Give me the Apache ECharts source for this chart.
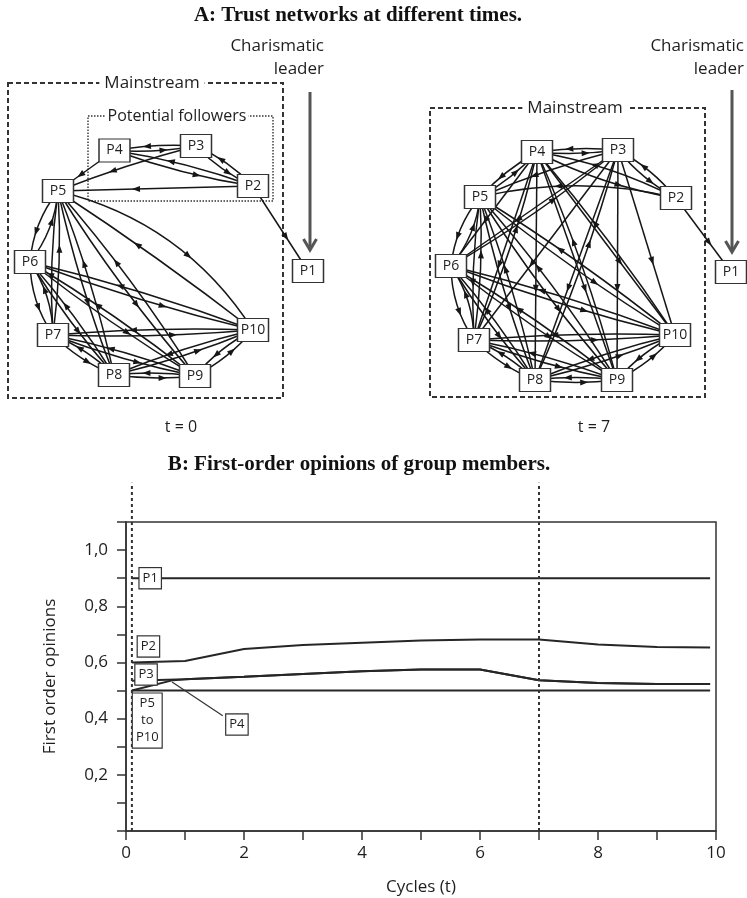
<!DOCTYPE html>
<html><head><meta charset="utf-8">
<script src="https://cdn.jsdelivr.net/npm/echarts@6/dist/echarts.min.js"></script>
<style>html,body{margin:0;padding:0;background:#fff}#c{width:747px;height:898px}</style>
</head><body><div id="c"></div>
<script>
// ---------- Panel A data (node layout units) ----------
const nodeNames = ['P1','P2','P3','P4','P5','P6','P7','P8','P9','P10'];
const leftNodeX  = [308, 253, 196, 114.5, 58, 30, 53, 114, 195, 253];
const leftNodeY  = [271, 186, 146, 150.5, 191, 262, 335, 375, 376, 330];
const rightNodeX = [731, 676, 618, 537, 480, 451, 474, 535, 617, 675];
const rightNodeY = [272, 198, 150, 152, 197, 266, 340, 380, 380, 335];

// [source, target, curveness]
const leftEdges = [
  [4,3,0.06],[3,4,0.06],[4,2,0.05],[2,4,0.05],[3,2,0.1],[2,3,0.1],[4,5,0],[3,5,0.03],[2,5,0],[2,1,0],
  [5,6,0.15],[6,5,0.15],[5,7,0.05],[7,5,0.05],[5,8,0.04],[8,5,0.04],[5,9,0.04],[9,5,0.04],[5,10,-0.2],[10,5,0.02],
  [6,7,0.15],[7,6,0.15],[6,8,0.04],[8,6,0.04],[6,9,0.03],[9,6,0.03],[6,10,0.03],[10,6,0.03],
  [7,8,0.1],[8,7,0.1],[7,9,0.04],[9,7,0.04],[7,10,0.03],[10,7,0.03],
  [8,9,0.06],[9,8,0.06],[8,10,0.04],[10,8,0.04],[9,10,0.1],[10,9,0.1]
];
const rightEdges = [
  [4,3,0.06],[3,4,0.06],[4,2,0.08],[2,4,0.08],[3,2,0.1],[2,3,0.1],[5,4,0.08],[4,5,0.08],[3,5,0.04],[2,5,0.12],[2,1,0],
  [4,6,0],[4,7,0],[4,8,0],[4,9,0],[4,10,0],[3,6,0],[3,7,0],[3,8,0],[3,9,0],[3,10,0],
  [6,3,0.04],[7,4,0.05],[9,4,0.04],[8,3,0.04],[10,4,0.03],
  [5,6,0.15],[6,5,0.15],[5,7,0.05],[7,5,0.05],[5,8,0.04],[8,5,0.04],[5,9,0.04],[9,5,0.04],[5,10,0.03],[10,5,0.03],
  [6,7,0.15],[7,6,0.15],[6,8,0.04],[8,6,0.04],[6,9,0.03],[9,6,0.03],[6,10,0.03],[10,6,0.03],
  [7,8,0.1],[8,7,0.1],[7,9,0.04],[9,7,0.04],[7,10,0.03],[10,7,0.03],
  [8,9,0.06],[9,8,0.06],[8,10,0.04],[10,8,0.04],[9,10,0.1],[10,9,0.1]
];

const frameX1 = [8, 88, 430];
const frameY1 = [83, 116, 108];
const frameX2 = [283, 273, 705];
const frameY2 = [398, 201, 397];
const frameLabels = ['Mainstream', 'Potential followers', 'Mainstream'];
const frameLabelX = [152, 177, 575];
const frameKind = ['dash', 'dot', 'dash'];

const leaderX = [310, 732];
const leaderTop = [92, 90];
const leaderBottom = [250, 252];

// ---------- Panel B data ----------
const cycles = [0.1, 1, 2, 3, 4, 5, 6, 7, 8, 9, 9.9];
const opP1 = [0.9, 0.9, 0.9, 0.9, 0.9, 0.9, 0.9, 0.9, 0.9, 0.9, 0.9];
const opP2 = [0.60, 0.605, 0.648, 0.662, 0.670, 0.678, 0.682, 0.682, 0.664, 0.655, 0.653];
const opP3 = [0.535, 0.54, 0.549, 0.559, 0.569, 0.575, 0.575, 0.537, 0.527, 0.523, 0.523];
const cyclesP4 = [0.1, 0.8, 1, 2, 3, 4, 5, 6, 7, 8, 9, 9.9];
const opP4 = [0.5, 0.537, 0.54, 0.549, 0.559, 0.569, 0.575, 0.575, 0.537, 0.527, 0.523, 0.523];
const opP5to10 = [0.5, 0.5, 0.5, 0.5, 0.5, 0.5, 0.5, 0.5, 0.5, 0.5, 0.5];

const xTicks = [0, 2, 4, 6, 8, 10];
const yTickLabels = ['0,2', '0,4', '0,6', '0,8', '1,0'];

const annoLabels = ['P1', 'P2', 'P3', 'P5\nto\nP10', 'P4'];
const annoX = [0.41, 0.38, 0.34, 0.36, 1.88];
const annoY = [0.9, 0.657, 0.557, 0.393, 0.379];
const pointerFrom = [1.64, 0.41];
const pointerTo = [0.78, 0.53];
const vLineX = [0.1, 7];
const vLineTop = 1.24;

// ---------- chart ----------
const SANS = '"Open Sans", "Noto Sans", sans-serif';
const INK = '#1e1e1e';

function pos(net, n) {
  return net === 0 ? [leftNodeX[n-1], leftNodeY[n-1]] : [rightNodeX[n-1], rightNodeY[n-1]];
}

const edgeData = leftEdges.map(e => [e[0], e[1], e[2], 0]).concat(rightEdges.map(e => [e[0], e[1], e[2], 1]));
const nodeData = [];
nodeNames.forEach((n, i) => nodeData.push({name: n, value: [leftNodeX[i], leftNodeY[i]]}));
nodeNames.forEach((n, i) => nodeData.push({name: n, value: [rightNodeX[i], rightNodeY[i]]}));

function edgeItem(params, api) {
  const s = api.value(0), t = api.value(1), c = api.value(2), net = api.value(3);
  const p0 = api.coord(pos(net, s)), p1 = api.coord(pos(net, t));
  const dx = p1[0]-p0[0], dy = p1[1]-p0[1], L = Math.hypot(dx, dy);
  const nx = -dy/L, ny = dx/L;
  const cx = (p0[0]+p1[0])/2 + c*L*nx, cy = (p0[1]+p1[1])/2 + c*L*ny;
  const u = 0.6;
  const px = (1-u)*(1-u)*p0[0] + 2*(1-u)*u*cx + u*u*p1[0];
  const py = (1-u)*(1-u)*p0[1] + 2*(1-u)*u*cy + u*u*p1[1];
  let tx = 2*(1-u)*(cx-p0[0]) + 2*u*(p1[0]-cx);
  let ty = 2*(1-u)*(cy-p0[1]) + 2*u*(p1[1]-cy);
  const tl = Math.hypot(tx, ty); tx /= tl; ty /= tl;
  const al = 8, aw = 3;
  const tip = [px + tx*al/2, py + ty*al/2];
  const b = [px - tx*al/2, py - ty*al/2];
  return {type: 'group', children: [
    {type: 'bezierCurve', shape: {x1: p0[0], y1: p0[1], x2: p1[0], y2: p1[1], cpx1: cx, cpy1: cy},
     style: {stroke: '#161616', fill: null, lineWidth: 1.5}},
    {type: 'polygon', shape: {points: [tip, [b[0] - ty*aw, b[1] + tx*aw], [b[0] + ty*aw, b[1] - tx*aw]]},
     style: {fill: '#161616'}}
  ]};
}

function frameItem(params, api) {
  const i = params.dataIndex;
  const a = api.coord([api.value(0), api.value(1)]), b = api.coord([api.value(2), api.value(3)]);
  const dotted = frameKind[i] === 'dot';
  const lc = api.coord([frameLabelX[i], api.value(1)]);
  return {type: 'group', children: [
    {type: 'rect', shape: {x: a[0], y: a[1], width: b[0]-a[0], height: b[1]-a[1]},
     style: {fill: 'rgba(0,0,0,0)', stroke: '#333', lineWidth: dotted ? 1.4 : 2, lineDash: dotted ? [1.5, 1.5] : [5, 3]}},
    {type: 'text', x: lc[0], y: lc[1], z2: 10,
     style: {text: frameLabels[i], align: 'center', verticalAlign: 'middle', fill: INK,
             font: (dotted ? '16px ' : '17px ') + SANS, backgroundColor: '#fff', padding: dotted ? [0, 2] : [0, 5]}}
  ]};
}

function leaderItem(params, api) {
  const top = api.coord([api.value(0), api.value(1)]);
  const bot = api.coord([api.value(0), api.value(2)]);
  const col = '#555';
  return {type: 'group', children: [
    {type: 'line', shape: {x1: top[0], y1: top[1], x2: bot[0], y2: bot[1] - 1}, style: {stroke: col, lineWidth: 3}},
    {type: 'polyline', shape: {points: [[bot[0]-6.5, bot[1]-11], [bot[0], bot[1]], [bot[0]+6.5, bot[1]-11]]},
     style: {stroke: col, lineWidth: 3, fill: null}}
  ]};
}

function annoItem(params, api) {
  const i = params.dataIndex;
  const p = api.coord([api.value(0), api.value(1)]);
  return {type: 'text', x: p[0], y: p[1], z2: 20,
    style: {text: annoLabels[i], align: 'center', verticalAlign: 'middle', fill: INK,
            font: '13px ' + SANS, lineHeight: 17, backgroundColor: '#fff', borderColor: '#333', borderWidth: 1.2,
            padding: [2, 3, 1, 3]}};
}

function vLineItem(params, api) {
  const a = api.coord([api.value(0), 0]);
  const b = api.coord([api.value(0), vLineTop]);
  return {type: 'line', shape: {x1: a[0], y1: a[1], x2: b[0], y2: b[1]},
          style: {stroke: '#333', lineWidth: 2, lineDash: [3, 3]}};
}

function pointerItem(params, api) {
  const a = api.coord(pointerFrom), b = api.coord(pointerTo);
  return {type: 'line', shape: {x1: a[0], y1: a[1], x2: b[0], y2: b[1]}, style: {stroke: '#333', lineWidth: 1.2}};
}

const lineStyle = {color: '#262626', width: 2};
function lineSeries(name, xs, ys) {
  return {type: 'line', name, xAxisIndex: 1, yAxisIndex: 1, data: xs.map((x, i) => [x, ys[i]]),
    showSymbol: false, symbol: 'none', lineStyle, z: 3, animation: false};
}

const chart = echarts.init(document.getElementById('c'), null, {renderer: 'canvas'});
chart.setOption({
  animation: false,
  backgroundColor: '#fff',
  textStyle: {fontFamily: SANS},
  grid: [
    {left: 0, top: 0, width: 747, height: 460, show: false},
    {left: 126, right: 31, top: 522, bottom: 67, show: true, borderColor: '#333', borderWidth: 1.5, backgroundColor: 'rgba(0,0,0,0)'}
  ],
  xAxis: [
    {gridIndex: 0, type: 'value', min: 0, max: 747, show: false},
    {gridIndex: 1, type: 'value', min: 0, max: 10, interval: 1,
     axisLine: {lineStyle: {color: '#333', width: 1.5}},
     axisTick: {inside: false, length: 9, lineStyle: {color: '#333', width: 1.5}},
     axisLabel: {margin: 14, fontSize: 17, color: INK, fontFamily: SANS,
       formatter: v => xTicks.indexOf(Math.round(v*100)/100) >= 0 ? String(v) : ''},
     splitLine: {show: false},
     name: 'Cycles (t)', nameLocation: 'middle', nameGap: 48,
     nameTextStyle: {fontSize: 17, color: INK, fontFamily: SANS}}
  ],
  yAxis: [
    {gridIndex: 0, type: 'value', min: 0, max: 460, inverse: true, show: false},
    {gridIndex: 1, type: 'value', min: 0, max: 1.1, interval: 0.1,
     axisLine: {show: true, lineStyle: {color: '#333', width: 1.5}},
     axisTick: {show: true, inside: false, length: 9, lineStyle: {color: '#333', width: 1.5}},
     axisLabel: {margin: 18, fontSize: 17, color: INK, fontFamily: SANS,
       formatter: v => { const r = Math.round(v*10); return (r % 2 === 0 && r >= 2 && r <= 10) ? yTickLabels[r/2 - 1] : ''; }},
     splitLine: {show: false},
     name: 'First order opinions', nameLocation: 'middle', nameGap: 67,
     nameTextStyle: {fontSize: 17, color: INK, fontFamily: SANS}}
  ],
  graphic: [
    {type: 'text', x: 358, y: 16, style: {text: 'A: Trust networks at different times.', align: 'center', verticalAlign: 'middle', fill: '#111', font: 'bold 21px "Liberation Serif", "Times New Roman", serif'}},
    {type: 'text', x: 359, y: 465, style: {text: 'B: First-order opinions of group members.', align: 'center', verticalAlign: 'middle', fill: '#111', font: 'bold 21px "Liberation Serif", "Times New Roman", serif'}},
    {type: 'text', x: 181, y: 427, style: {text: 't = 0', align: 'center', verticalAlign: 'middle', fill: INK, font: '16px ' + SANS}},
    {type: 'text', x: 594, y: 427, style: {text: 't = 7', align: 'center', verticalAlign: 'middle', fill: INK, font: '16px ' + SANS}},
    {type: 'text', x: 324, y: 58, style: {text: 'Charismatic\nleader', align: 'right', verticalAlign: 'middle', lineHeight: 23, fill: INK, font: '17px ' + SANS}},
    {type: 'text', x: 744, y: 58, style: {text: 'Charismatic\nleader', align: 'right', verticalAlign: 'middle', lineHeight: 23, fill: INK, font: '17px ' + SANS}}
  ],
  series: [
    {type: 'custom', name: 'frames', xAxisIndex: 0, yAxisIndex: 0, renderItem: frameItem, z: 1,
     data: frameX1.map((x, i) => [x, frameY1[i], frameX2[i], frameY2[i]]), clip: false, silent: true},
    {type: 'custom', name: 'edges', xAxisIndex: 0, yAxisIndex: 0, renderItem: edgeItem, z: 2,
     data: edgeData, clip: false, silent: true},
    {type: 'custom', name: 'leader', xAxisIndex: 0, yAxisIndex: 0, renderItem: leaderItem, z: 2,
     data: leaderX.map((x, i) => [x, leaderTop[i], leaderBottom[i]]), clip: false, silent: true},
    {type: 'scatter', name: 'nodes', xAxisIndex: 0, yAxisIndex: 0, z: 5, symbol: 'rect', symbolSize: [31, 23],
     itemStyle: {color: '#fff', borderColor: '#333', borderWidth: 1.3, opacity: 1},
     label: {show: true, position: 'inside', formatter: p => p.name, color: INK, fontSize: 14, fontFamily: SANS},
     data: nodeData, silent: true},
    lineSeries('P1', cycles, opP1),
    lineSeries('P2', cycles, opP2),
    lineSeries('P3', cycles, opP3),
    lineSeries('P4', cyclesP4, opP4),
    lineSeries('P5 to P10', cycles, opP5to10),
    {type: 'custom', name: 'vlines', xAxisIndex: 1, yAxisIndex: 1, renderItem: vLineItem, z: 4,
     data: vLineX.map(x => [x, 0]), clip: false, silent: true},
    {type: 'custom', name: 'pointer', xAxisIndex: 1, yAxisIndex: 1, renderItem: pointerItem, z: 5,
     data: [[pointerFrom[0], pointerFrom[1]]], clip: false, silent: true},
    {type: 'custom', name: 'annotations', xAxisIndex: 1, yAxisIndex: 1, renderItem: annoItem, z: 6,
     data: annoX.map((x, i) => [x, annoY[i]]), clip: false, silent: true}
  ]
});
</script>
</body></html>
